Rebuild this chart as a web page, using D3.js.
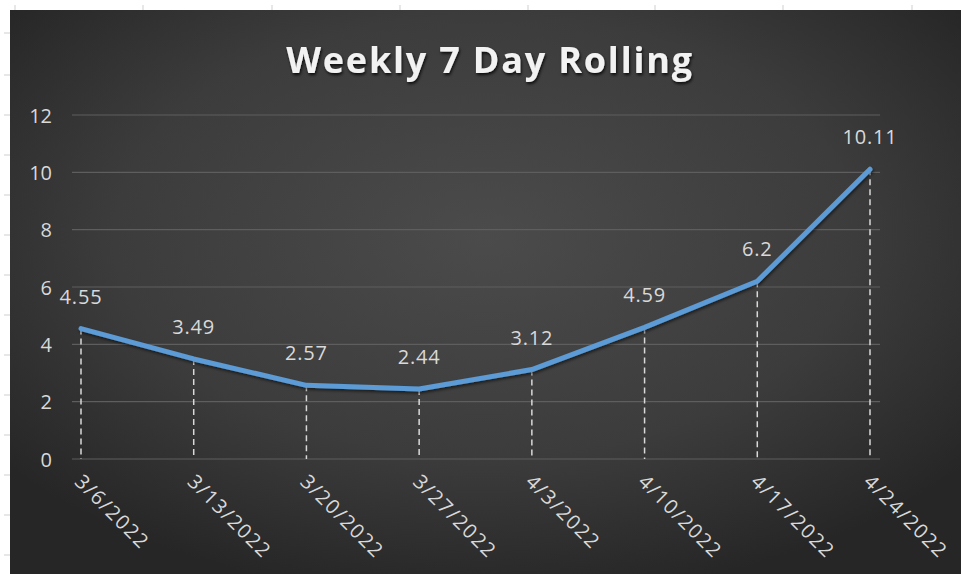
<!DOCTYPE html>
<html>
<head>
<meta charset="utf-8">
<script src="https://cdn.jsdelivr.net/npm/d3@7"></script>
<style>
  html, body { margin: 0; padding: 0; background: #ffffff; }
  svg { display: block; }
</style>
</head>
<body>
<svg id="chart" width="961" height="574"></svg>
<script>
const categories = ["3/6/2022", "3/13/2022", "3/20/2022", "3/27/2022", "4/3/2022", "4/10/2022", "4/17/2022", "4/24/2022"];
const values = [4.55, 3.49, 2.57, 2.44, 3.12, 4.59, 6.2, 10.11];
const valueLabels = ["4.55", "3.49", "2.57", "2.44", "3.12", "4.59", "6.2", "10.11"];
const yTicks = [0, 2, 4, 6, 8, 10, 12];
const title = "Weekly 7 Day Rolling";

const W = 961, H = 574;
const svg = d3.select("#chart");
const defs = svg.append("defs");

const grad = defs.append("radialGradient")
  .attr("id", "bg").attr("cx", "50%").attr("cy", "40%").attr("r", "65%")
  .attr("gradientUnits", "objectBoundingBox");
grad.append("stop").attr("offset", "0%").attr("stop-color", "#4b4b4b");
grad.append("stop").attr("offset", "60%").attr("stop-color", "#3c3c3c");
grad.append("stop").attr("offset", "100%").attr("stop-color", "#262626");

const shadow = defs.append("filter").attr("id", "shadow").attr("x", "-20%").attr("y", "-20%").attr("width", "140%").attr("height", "140%");
shadow.append("feDropShadow").attr("dx", 1).attr("dy", 2).attr("stdDeviation", 1.5).attr("flood-color", "#000").attr("flood-opacity", 0.55);

const tshadow = defs.append("filter").attr("id", "tshadow").attr("x", "-10%").attr("y", "-30%").attr("width", "120%").attr("height", "160%");
tshadow.append("feDropShadow").attr("dx", 1).attr("dy", 2).attr("stdDeviation", 1.5).attr("flood-color", "#000").attr("flood-opacity", 0.8);

// spreadsheet-like background strip marks
const bgMarks = svg.append("g").attr("stroke", "#cfcfcf").attr("stroke-width", 1);
[33, 75, 115, 155, 195, 235, 275, 315, 355, 395, 435, 475, 515, 555].forEach(y => {
  bgMarks.append("line").attr("x1", 4).attr("x2", 10).attr("y1", y).attr("y2", y);
});
[15, 143, 272, 400, 528, 655, 783, 912].forEach(x => {
  bgMarks.append("line").attr("x1", x).attr("x2", x).attr("y1", 5).attr("y2", 10);
});

// chart area background
svg.append("rect").attr("x", 10).attr("y", 10).attr("width", W - 10).attr("height", H - 10)
  .attr("fill", "url(#bg)");

const x = d3.scalePoint().domain(categories).range([81, 870]);
const y = d3.scaleLinear().domain([0, 12]).range([459, 115]);
const gridX0 = 72, gridX1 = 880;

// gridlines
svg.append("g").selectAll("line").data(yTicks).join("line")
  .attr("x1", gridX0).attr("x2", gridX1)
  .attr("y1", d => y(d)).attr("y2", d => y(d))
  .attr("stroke", "#5e5e5e").attr("stroke-width", 1.2);

const font = "'Open Sans', sans-serif";

// y axis labels
const yAxis = d3.axisLeft(y).tickValues(yTicks).tickSize(0).tickPadding(0);
const ya = svg.append("g").attr("transform", "translate(52,0)").call(yAxis);
ya.select(".domain").remove();
ya.selectAll("text")
  .attr("fill", "#d9d9d9").attr("font-family", font).attr("font-size", 20)
  .attr("dy", "0.35em");

// x axis labels
const xAxis = d3.axisBottom(x).tickSize(0).tickPadding(0);
const xa = svg.append("g").attr("transform", "translate(0,459)").call(xAxis);
xa.select(".domain").remove();
xa.selectAll("text")
  .attr("fill", "#d9d9d9").attr("font-family", font).attr("font-size", 20)
  .attr("letter-spacing", 1.5)
  .attr("text-anchor", "start")
  .attr("transform", "translate(-3,19) rotate(45)")
  .attr("dy", "0.35em").attr("y", 0).attr("x", 0);

// drop lines
svg.append("g").selectAll("line").data(values).join("line")
  .attr("x1", (d, i) => x(categories[i])).attr("x2", (d, i) => x(categories[i]))
  .attr("y1", d => y(d)).attr("y2", y(0))
  .attr("stroke", "#d9d9d9").attr("stroke-width", 1.5).attr("stroke-dasharray", "6,4");

// line
const line = d3.line().x((d, i) => x(categories[i])).y(d => y(d));
svg.append("path").datum(values)
  .attr("d", line).attr("fill", "none")
  .attr("stroke", "#5b9bd5").attr("stroke-width", 5).attr("stroke-linejoin", "round").attr("stroke-linecap", "round")
  .attr("filter", "url(#shadow)");

// data labels
svg.append("g").selectAll("text").data(values).join("text")
  .attr("x", (d, i) => x(categories[i])).attr("y", d => y(d) - 25)
  .attr("text-anchor", "middle")
  .attr("fill", "#d9d9d9").attr("font-family", font).attr("font-size", 20)
  .attr("letter-spacing", 0.8)
  .text((d, i) => valueLabels[i]);

// title
svg.append("text").attr("x", 490).attr("y", 73).attr("text-anchor", "middle")
  .attr("fill", "#f2f2f2").attr("font-family", font).attr("font-weight", "bold")
  .attr("font-size", 36).attr("letter-spacing", 1.8).attr("filter", "url(#tshadow)")
  .text(title);
</script>
</body>
</html>
